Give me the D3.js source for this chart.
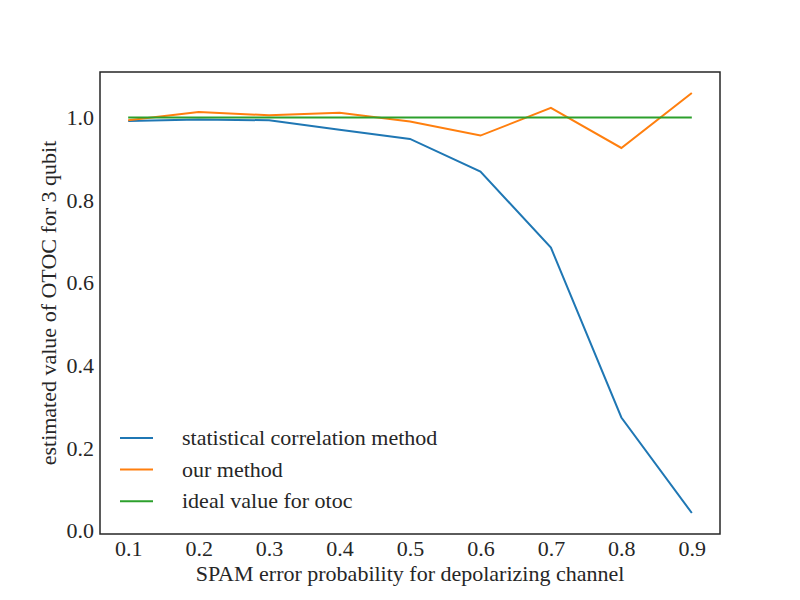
<!DOCTYPE html>
<html>
<head>
<meta charset="utf-8">
<script src="https://cdn.jsdelivr.net/npm/d3@7"></script>
</head>
<body style="margin:0">
<svg id="chart" width="800" height="600"></svg>
<script>
const xValues = [0.1, 0.2, 0.3, 0.4, 0.5, 0.6, 0.7, 0.8, 0.9];
const statistical = [0.991, 0.995, 0.993, 0.970, 0.948, 0.869, 0.685, 0.274, 0.043];
const ourMethod = [0.993, 1.013, 1.005, 1.011, 0.990, 0.956, 1.023, 0.926, 1.059];
const ideal = [1, 1, 1, 1, 1, 1, 1, 1, 1];
const xTicks = [0.1, 0.2, 0.3, 0.4, 0.5, 0.6, 0.7, 0.8, 0.9];
const yTicks = [0.0, 0.2, 0.4, 0.6, 0.8, 1.0];

const series = [
    {name: 'statistical correlation method', values: statistical, color: '#1f77b4'},
    {name: 'our method', values: ourMethod, color: '#ff7f0e'},
    {name: 'ideal value for otoc', values: ideal, color: '#2ca02c'}
];

const FONT = "'Liberation Serif', 'Times New Roman', serif";
const FS = '22px';
const INK = '#262626';

const margin = ({top: 72, right: 80, bottom: 66, left: 100});
const width = 800 - margin.left - margin.right;
const height = 600 - margin.top - margin.bottom;

const svg = d3.select('#chart')
                .append('g')
                .attr('transform', 'translate(' + margin.left + ',' + margin.top + ')');

// matplotlib style 5% padding
const xExt = d3.extent(xValues);
const xPad = (xExt[1] - xExt[0]) * 0.05;
const xScale = d3.scaleLinear()
                .domain([xExt[0] - xPad, xExt[1] + xPad])
                .range([0, width]);

const allY = series.flatMap(s => s.values);
const yExt = d3.extent(allY);
const yPad = (yExt[1] - yExt[0]) * 0.05;
const yScale = d3.scaleLinear()
                .domain([yExt[0] - yPad, yExt[1] + yPad])
                .range([height, 0]);

const line = d3.line()
                .x((d, i) => xScale(xValues[i]))
                .y(d => yScale(d));

svg.selectAll('path.series')
    .data(series)
    .enter()
    .append('path')
    .attr('class', 'series')
    .attr('d', d => line(d.values))
    .attr('fill', 'none')
    .attr('stroke', d => d.color)
    .attr('stroke-width', 2);

const xAxis = d3.axisBottom(xScale)
                .tickValues(xTicks)
                .tickSize(0)
                .tickPadding(6)
                .tickFormat(d3.format('.1f'));

const yAxis = d3.axisLeft(yScale)
                .tickValues(yTicks)
                .tickSize(0)
                .tickPadding(6)
                .tickFormat(d3.format('.1f'));

const gx = svg.append('g')
    .attr('class', 'axis x-axis')
    .attr('transform', 'translate(0,' + height + ')')
    .call(xAxis);

const gy = svg.append('g')
    .attr('class', 'axis y-axis')
    .call(yAxis);

[gx, gy].forEach(g => {
    g.attr('font-family', null).attr('font-size', null);
    g.select('.domain').remove();
});

// frame
svg.append('rect')
    .attr('width', width)
    .attr('height', height)
    .attr('fill', 'none')
    .attr('stroke', INK)
    .attr('stroke-width', 1.5);

// axis labels
svg.append('text')
    .attr('x', width / 2)
    .attr('y', height + 47)
    .attr('text-anchor', 'middle')
    .text('SPAM error probability for depolarizing channel');

svg.append('text')
    .attr('transform', 'translate(' + (-44) + ',' + (height / 2) + ') rotate(-90)')
    .attr('text-anchor', 'middle')
    .text('estimated value of OTOC for 3 qubit');

// legend
const legend = svg.append('g')
    .attr('transform', 'translate(13,' + 366 + ')');

const items = legend.selectAll('g')
    .data(series)
    .enter()
    .append('g')
    .attr('transform', (d, i) => 'translate(0,' + (i * 31.6) + ')');

items.append('line')
    .attr('x1', 7).attr('x2', 40)
    .attr('y1', 0).attr('y2', 0)
    .attr('stroke', d => d.color)
    .attr('stroke-width', 2);

items.append('text')
    .attr('x', 69)
    .attr('y', 0)
    .attr('dy', '0.33em')
    .text(d => d.name);

// one font for every text, forced over any inherited setting
d3.selectAll('#chart text')
    .attr('font-family', 'Liberation Serif')
    .attr('font-size', 22)
    .attr('fill', INK)
    .style('font-family', FONT, 'important')
    .style('font-size', FS, 'important');
</script>
</body>
</html>
